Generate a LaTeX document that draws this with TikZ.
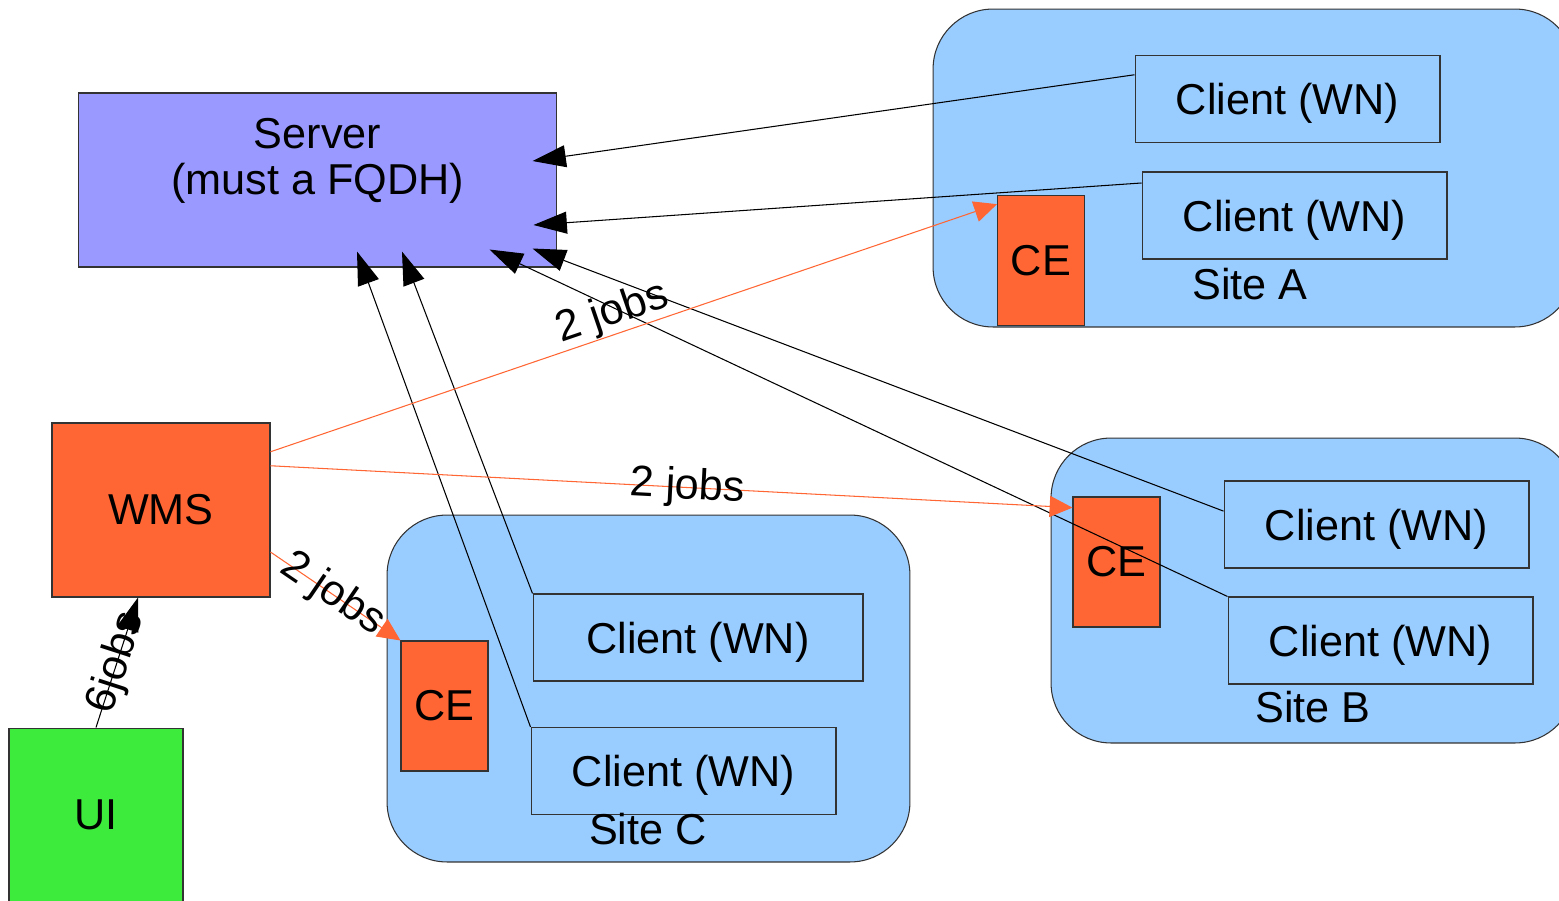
\documentclass[tikz,border=0pt]{standalone}
\usepackage{fontspec}
\setmainfont{Liberation Sans}
\usepackage{xcolor}
\usepackage{tikz}
\usetikzlibrary{arrows.meta}
\definecolor{serverblue}{RGB}{153,153,255}
\definecolor{siteblue}{RGB}{153,204,255}
\definecolor{ceorange}{RGB}{255,102,51}
\definecolor{uigreen}{RGB}{61,235,61}

\begin{document}
\begin{tikzpicture}[x=0.02cm, y=-0.02cm, font=\fontsize{24.6}{26.5}\selectfont,
      box/.style={draw=black!80, line width=0.6pt, align=center, inner sep=0pt},
      site/.style={box, fill=siteblue, rounded corners=1.2cm},
      client/.style={box, fill=siteblue, minimum width=6.1cm, minimum height=1.74cm, text depth=0pt},
      ce/.style={box, fill=ceorange, minimum width=1.74cm, minimum height=2.6cm},
      arr/.style={-{Triangle[length=19pt, width=12.5pt]}, line width=0.6pt, black},
      jobarr/.style={-{Triangle[length=13pt, width=12pt]}, line width=0.6pt, draw=ceorange}]
    \useasboundingbox (0,0) rectangle (1559,900);
    \node[site, minimum width=12.84cm, minimum height=6.36cm] (siteA) at (1254,168) {};
    \node[site, minimum width=10.48cm, minimum height=6.1cm] (siteB) at (1313,590.5) {};
    \node[site, minimum width=10.46cm, minimum height=6.94cm] (siteC) at (648.5,688.5) {};
    \node[box, fill=serverblue, minimum width=9.58cm, minimum height=3.48cm,
          label={[align=center, yshift=0.38cm]center:Server\\(must a FQDH)}] (server) at (317.5,180) {};
    \node[box, fill=ceorange, minimum width=4.36cm, minimum height=3.48cm] (wms) at (161,510) {WMS};
    \node[box, fill=uigreen, minimum width=3.48cm, minimum height=3.48cm] (ui) at (96,815) {UI};
    \node[client] (clientA1) at (1287.5,99) {Client (WN)};
    \node[client] (clientA2) at (1294.5,215.5) {Client (WN)};
    \node[client] (clientB1) at (1376.5,524.5) {Client (WN)};
    \node[client] (clientB2) at (1380.5,640.5) {Client (WN)};
    \node[client, minimum width=6.6cm] (clientC1) at (698,637.5) {Client (WN)};
    \node[client] (clientC2) at (683.5,771) {Client (WN)};
    \node[ce] (ceA) at (1041,260.5) {CE};
    \node[ce] (ceB) at (1116.5,562) {CE};
    \node[ce] (ceC) at (444.5,706) {CE};
    \node (siteAtxt) at (1250,284) {Site A};
    \node (siteBtxt) at (1313,707) {Site B};
    \node (siteCtxt) at (648,829) {Site C};
    % clients report back to the server
    \draw[arr] (clientA1.171) -- ([xshift=-0.5cm, yshift=0.38cm]server.east);
    \draw[arr] (clientA2.168) -- ([xshift=-0.48cm, yshift=-0.9cm]server.east);
    \draw[arr] (clientB1.175) -- ([xshift=-0.5cm, yshift=0.38cm]server.south east);
    \draw[arr] (clientB2.north west) -- ([xshift=-1.36cm, yshift=0.36cm]server.south east);
    \draw[arr] (clientC1.north west) -- ([xshift=1.69cm, yshift=0.32cm]server.south);
    \draw[arr] (clientC2.north west) -- ([xshift=0.79cm, yshift=0.32cm]server.south);
    % job submission
    \draw[arr] (ui.north) -- node[pos=0.5, sloped]{6jobs} ([xshift=-0.46cm]wms.south);
    \draw[jobarr] (wms.28) -- node[pos=0.48, sloped, anchor=south, inner sep=0pt]{2 jobs} (ceA.128);
    \draw[jobarr] (wms.22) -- node[pos=0.52, sloped]{2 jobs} (ceB.129);
    \draw[jobarr] (wms.-21.5) -- node[pos=0.48, sloped]{2 jobs} (ceC.north west);
  \end{tikzpicture}
\end{document}
